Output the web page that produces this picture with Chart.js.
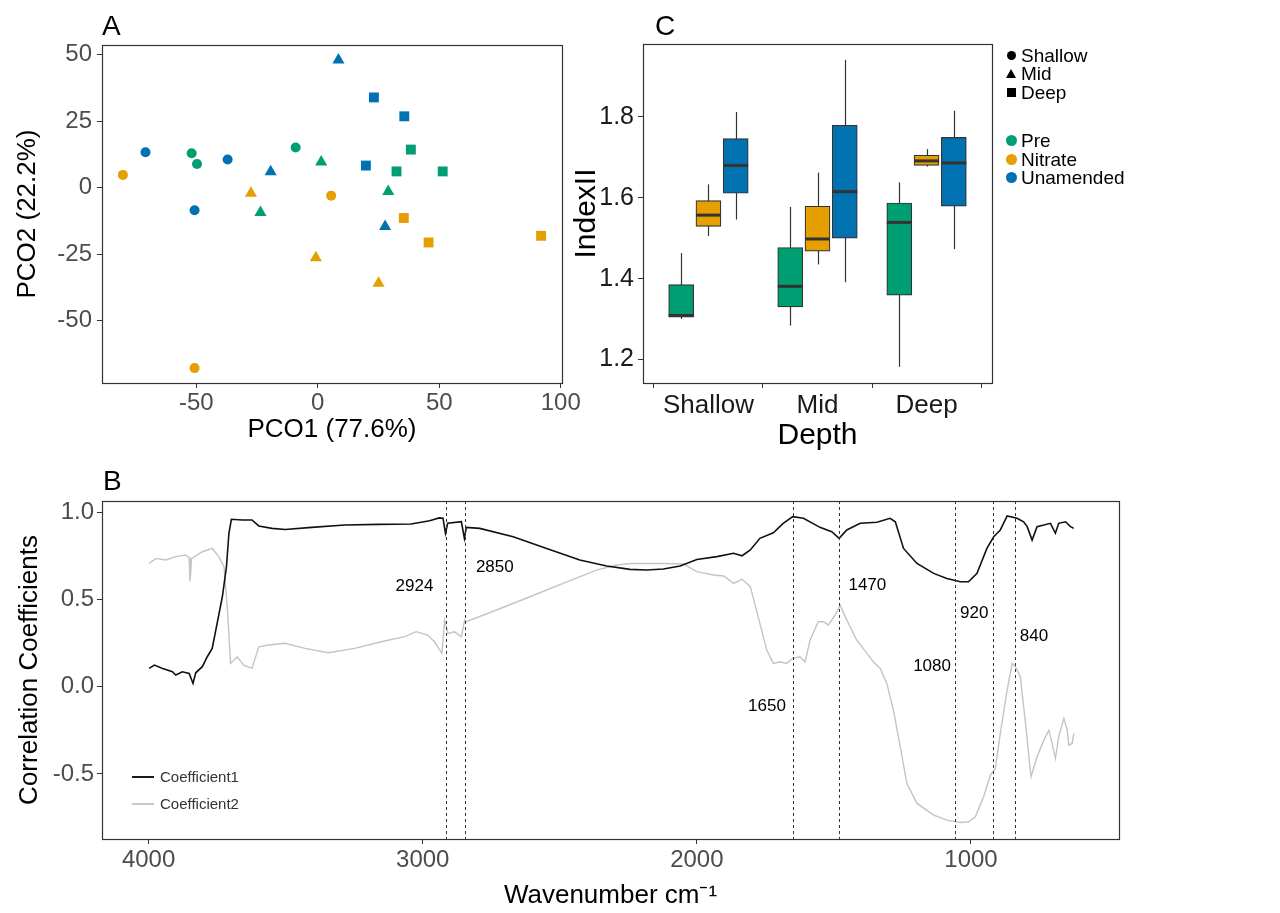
<!DOCTYPE html>
<html>
<head>
<meta charset="utf-8">
<title>PCO, IndexII and correlation spectra</title>
<script src="https://cdn.jsdelivr.net/npm/chart.js@4.4.1/dist/chart.umd.min.js"></script>
<style>
    html, body { margin: 0; padding: 0; background: #fff; }
    body { width: 1280px; height: 913px; position: relative; overflow: hidden;
           font-family: "Liberation Sans", Arial, sans-serif; }
    .panel { position: absolute; }
    .tag { position: absolute; font-size: 28px; line-height: 28px; color: #000; }
    .leg { position: absolute; font-size: 19px; line-height: 19px; color: #000; white-space: nowrap; }
    .shape { position: absolute; }
    .legB { position: absolute; font-family: "Liberation Sans Narrow", "Liberation Sans", Arial, sans-serif;
            font-size: 15px; line-height: 16px; color: #333; white-space: nowrap; }
</style>
</head>
<body>

<div class="panel" style="left:0;top:0;width:590px;height:450px;">
    <canvas id="chartA" width="590" height="450"></canvas>
</div>
<div class="tag" style="left:102px;top:12px;">A</div>

<div class="panel" style="left:560px;top:0;width:460px;height:460px;">
    <canvas id="chartC" width="460" height="460"></canvas>
</div>
<div class="tag" style="left:655px;top:12px;">C</div>

<!-- legend of panel C -->
<div class="shape" style="left:1007px;top:51px;width:9px;height:9px;border-radius:50%;background:#000;"></div>
<div class="leg" style="left:1021px;top:46px;">Shallow</div>
<div class="shape" style="left:1006px;top:69px;width:0;height:0;border-left:5.5px solid transparent;border-right:5.5px solid transparent;border-bottom:9px solid #000;"></div>
<div class="leg" style="left:1021px;top:64px;">Mid</div>
<div class="shape" style="left:1007px;top:88px;width:9px;height:9px;background:#000;"></div>
<div class="leg" style="left:1021px;top:83px;">Deep</div>
<div class="shape" style="left:1006px;top:135px;width:11px;height:11px;border-radius:50%;background:#009E73;"></div>
<div class="leg" style="left:1021px;top:131px;">Pre</div>
<div class="shape" style="left:1006px;top:154px;width:11px;height:11px;border-radius:50%;background:#E69F00;"></div>
<div class="leg" style="left:1021px;top:150px;">Nitrate</div>
<div class="shape" style="left:1006px;top:172px;width:11px;height:11px;border-radius:50%;background:#0072B2;"></div>
<div class="leg" style="left:1021px;top:168px;">Unamended</div>

<div class="panel" style="left:0;top:470px;width:1280px;height:443px;">
    <canvas id="chartB" width="1280" height="443"></canvas>
</div>
<div class="tag" style="left:103px;top:467px;">B</div>
<div class="shape" style="left:132px;top:776px;width:22px;height:2px;background:#1a1a1a;"></div>
<div class="legB" style="left:160px;top:769px;">Coefficient1</div>
<div class="shape" style="left:132px;top:803px;width:22px;height:2px;background:#c8c8c8;"></div>
<div class="legB" style="left:160px;top:796px;">Coefficient2</div>

<script>
const PRE_COLOR = '#009E73';
const NITRATE_COLOR = '#E69F00';
const UNAMENDED_COLOR = '#0072B2';

// Panel A - PCO scores [PCO1, PCO2]
const preShallow = [[-51.9, 12.9], [-49.7, 8.9], [-9.1, 15.1]];
const preMid = [[1.4, 9.6], [29.0, -1.4], [-23.6, -9.3]];
const preDeep = [[38.3, 14.3], [32.4, 6.1], [51.4, 6.1]];
const nitrateShallow = [[-80.2, 4.8], [5.5, -3.0], [-50.7, -67.8]];
const nitrateMid = [[-27.5, -2.1], [-0.8, -26.3], [25.0, -35.9]];
const nitrateDeep = [[35.4, -11.4], [45.6, -20.6], [91.9, -18.1]];
const unamendedShallow = [[-70.9, 13.3], [-37.1, 10.6], [-50.7, -8.5]];
const unamendedMid = [[-19.4, 6.0], [8.5, 48.0], [27.7, -14.6]];
const unamendedDeep = [[23.1, 33.9], [35.6, 26.8], [19.8, 8.3]];
const pco1Ticks = [-50, 0, 50, 100];
const pco2Ticks = [-50, -25, 0, 25, 50];

// Panel C - IndexII box plots by depth
const depthLabels = ['Shallow', 'Mid', 'Deep'];
const preMin = [1.300, 1.284, 1.182];
const preQ1 = [1.305, 1.330, 1.359];
const preMedian = [1.309, 1.381, 1.539];
const preQ3 = [1.385, 1.477, 1.587];
const preMax = [1.463, 1.577, 1.638];
const nitrateMin = [1.505, 1.435, 1.677];
const nitrateQ1 = [1.529, 1.468, 1.680];
const nitrateMedian = [1.557, 1.498, 1.691];
const nitrateQ3 = [1.593, 1.579, 1.705];
const nitrateMax = [1.633, 1.662, 1.720];
const unamendedMin = [1.546, 1.391, 1.473];
const unamendedQ1 = [1.611, 1.500, 1.579];
const unamendedMedian = [1.680, 1.615, 1.686];
const unamendedQ3 = [1.746, 1.779, 1.749];
const unamendedMax = [1.812, 1.941, 1.815];
const indexTicks = [1.2, 1.4, 1.6, 1.8];

// Panel B - correlation spectra
const coef1Wave = [3998, 3979, 3949, 3913, 3901, 3877, 3852, 3838, 3828, 3804, 3786, 3768, 3750, 3731,
    3716, 3707, 3698, 3659, 3623, 3598, 3550, 3502, 3405, 3284, 3163, 3042, 2975, 2940, 2926, 2917,
    2909, 2859, 2848, 2841, 2792, 2670, 2548, 2427, 2329, 2244, 2183, 2122, 2061, 2000, 1927, 1866,
    1835, 1805, 1770, 1721, 1685, 1650, 1611, 1551, 1508, 1481, 1453, 1404, 1343, 1295, 1276, 1246,
    1197, 1136, 1088, 1039, 1009, 978, 942, 917, 893, 868, 832, 808, 795, 777, 759, 734, 710, 692,
    680, 655, 637, 625];
const coef1Value = [0.105, 0.124, 0.105, 0.086, 0.067, 0.086, 0.076, 0.019, 0.080, 0.115, 0.172, 0.220,
    0.363, 0.516, 0.688, 0.880, 0.960, 0.956, 0.956, 0.922, 0.908, 0.902, 0.914, 0.927, 0.931, 0.933,
    0.952, 0.968, 0.966, 0.880, 0.937, 0.946, 0.850, 0.914, 0.908, 0.860, 0.793, 0.727, 0.692, 0.673,
    0.669, 0.675, 0.692, 0.730, 0.746, 0.765, 0.751, 0.784, 0.851, 0.883, 0.937, 0.975, 0.966, 0.914,
    0.889, 0.851, 0.899, 0.937, 0.943, 0.966, 0.946, 0.793, 0.707, 0.650, 0.621, 0.602, 0.602, 0.650,
    0.793, 0.860, 0.899, 0.979, 0.966, 0.946, 0.918, 0.841, 0.918, 0.927, 0.937, 0.880, 0.937, 0.946,
    0.918, 0.908];
const coef2Wave = [3998, 3973, 3937, 3901, 3865, 3852, 3849, 3843, 3804, 3768, 3744, 3725, 3713, 3701,
    3677, 3653, 3623, 3598, 3562, 3502, 3429, 3344, 3248, 3151, 3066, 3024, 2982, 2957, 2945, 2930,
    2920, 2908, 2884, 2859, 2847, 2841, 2731, 2609, 2488, 2366, 2292, 2244, 2122, 2049, 2000, 1939,
    1902, 1866, 1835, 1805, 1770, 1745, 1721, 1697, 1672, 1650, 1624, 1605, 1587, 1557, 1538, 1520,
    1496, 1477, 1459, 1417, 1356, 1331, 1307, 1283, 1258, 1234, 1197, 1136, 1088, 1039, 1009, 984,
    954, 929, 911, 893, 868, 850, 838, 820, 801, 781, 759, 734, 716, 704, 692, 680, 661, 649, 643,
    631, 625];
const coef2Value = [0.707, 0.736, 0.727, 0.746, 0.755, 0.740, 0.602, 0.736, 0.774, 0.793, 0.746, 0.688,
    0.459, 0.134, 0.172, 0.124, 0.105, 0.229, 0.239, 0.249, 0.220, 0.195, 0.220, 0.258, 0.287, 0.316,
    0.296, 0.258, 0.229, 0.191, 0.382, 0.306, 0.315, 0.287, 0.382, 0.373, 0.440, 0.516, 0.593, 0.669,
    0.698, 0.707, 0.707, 0.704, 0.660, 0.641, 0.635, 0.593, 0.616, 0.574, 0.363, 0.210, 0.134, 0.143,
    0.134, 0.163, 0.172, 0.143, 0.268, 0.373, 0.373, 0.354, 0.411, 0.468, 0.402, 0.268, 0.143, 0.105,
    0.019, -0.134, -0.344, -0.554, -0.669, -0.736, -0.765, -0.778, -0.774, -0.746, -0.631, -0.507,
    -0.468, -0.268, -0.019, 0.134, 0.115, 0.057, -0.210, -0.516, -0.402, -0.306, -0.249, -0.325,
    -0.411, -0.287, -0.182, -0.249, -0.335, -0.325, -0.268];
const markerWave = [2915, 2845, 1650, 1480, 1060, 920, 840];
const markerText = ['2924', '2850', '1650', '1470', '1080', '920', '840'];
const markerTextWave = [3030, 2737, 1744, 1378, 1142, 988, 770];
const markerTextValue = [0.575, 0.685, -0.115, 0.579, 0.115, 0.421, 0.287];
const waveTicks = [4000, 3000, 2000, 1000];
const corrTicks = [-0.5, 0, 0.5, 1.0];

Chart.defaults.font.family = '"Liberation Sans", Arial, sans-serif';

// box round the plotting panel (ggplot style border)
const panelBorder = {
    id: 'panelBorder',
    afterDraw(chart) {
        const { ctx, chartArea: a } = chart;
        ctx.save();
        ctx.strokeStyle = '#333';
        ctx.lineWidth = 1.2;
        ctx.strokeRect(Math.round(a.left) + 0.5, Math.round(a.top) + 0.5,
            Math.round(a.right - a.left), Math.round(a.bottom - a.top));
        ctx.restore();
    }
};

function fixedTicks(values) {
    return scale => { scale.ticks = values.map(v => ({ value: v })); };
}

function axisGrid() {
    return { display: true, drawOnChartArea: false, drawTicks: true, tickLength: 5, color: '#333', lineWidth: 1 };
}

// ---- Panel A ----
const pcoGroups = [
    { pts: preShallow, color: PRE_COLOR, shape: 'circle' },
    { pts: preMid, color: PRE_COLOR, shape: 'triangle' },
    { pts: preDeep, color: PRE_COLOR, shape: 'rect' },
    { pts: nitrateShallow, color: NITRATE_COLOR, shape: 'circle' },
    { pts: nitrateMid, color: NITRATE_COLOR, shape: 'triangle' },
    { pts: nitrateDeep, color: NITRATE_COLOR, shape: 'rect' },
    { pts: unamendedShallow, color: UNAMENDED_COLOR, shape: 'circle' },
    { pts: unamendedMid, color: UNAMENDED_COLOR, shape: 'triangle' },
    { pts: unamendedDeep, color: UNAMENDED_COLOR, shape: 'rect' }
];

new Chart(document.getElementById('chartA'), {
    type: 'scatter',
    data: {
        datasets: pcoGroups.map(g => ({
            data: g.pts.map(p => ({ x: p[0], y: p[1] })),
            pointStyle: g.shape,
            pointRadius: g.shape === 'circle' ? 5 : 7,
            backgroundColor: g.color,
            borderColor: g.color,
            borderWidth: 0
        }))
    },
    options: {
        responsive: false,
        animation: false,
        events: [],
        layout: { padding: { left: 0, top: 45, right: 28, bottom: 0 } },
        plugins: { legend: { display: false }, tooltip: { enabled: false } },
        scales: {
            x: {
                type: 'linear',
                min: -88.8,
                max: 100.5,
                afterBuildTicks: fixedTicks(pco1Ticks),
                afterFit: s => { s.height = 67; s.paddingLeft = 0; s.paddingRight = 0; },
                grid: axisGrid(),
                border: { display: false },
                ticks: { color: '#4d4d4d', font: { size: 24 }, padding: 1, autoSkip: false, maxRotation: 0 },
                title: { display: true, text: 'PCO1 (77.6%)', color: '#000', font: { size: 26 }, padding: { top: 0, bottom: 5 } }
            },
            y: {
                type: 'linear',
                min: -73.4,
                max: 53.6,
                afterBuildTicks: fixedTicks(pco2Ticks),
                afterFit: s => { s.width = 102; s.paddingTop = 0; s.paddingBottom = 0; },
                grid: axisGrid(),
                border: { display: false },
                ticks: { color: '#4d4d4d', font: { size: 24 }, padding: 5, autoSkip: false },
                title: { display: true, text: 'PCO2 (22.2%)', color: '#000', font: { size: 26 }, padding: { top: 12, bottom: 0 } }
            }
        }
    },
    plugins: [panelBorder]
});

// ---- Panel C ----
const boxStats = [
    { name: 'Pre', color: PRE_COLOR, dodge: -0.25, min: preMin, q1: preQ1, med: preMedian, q3: preQ3, max: preMax },
    { name: 'Nitrate', color: NITRATE_COLOR, dodge: 0, min: nitrateMin, q1: nitrateQ1, med: nitrateMedian, q3: nitrateQ3, max: nitrateMax },
    { name: 'Unamended', color: UNAMENDED_COLOR, dodge: 0.25, min: unamendedMin, q1: unamendedQ1, med: unamendedMedian, q3: unamendedQ3, max: unamendedMax }
];

const boxWhiskers = {
    id: 'boxWhiskers',
    beforeDatasetsDraw(chart) {
        const { ctx } = chart;
        const y = chart.scales.y;
        ctx.save();
        ctx.strokeStyle = '#333';
        ctx.lineWidth = 1.2;
        boxStats.forEach((s, i) => {
            chart.getDatasetMeta(i).data.forEach((bar, j) => {
                const px = Math.round(bar.x) + 0.5;
                ctx.beginPath();
                ctx.moveTo(px, y.getPixelForValue(s.max[j]));
                ctx.lineTo(px, y.getPixelForValue(s.min[j]));
                ctx.stroke();
            });
        });
        ctx.restore();
    },
    afterDatasetsDraw(chart) {
        const { ctx } = chart;
        const y = chart.scales.y;
        ctx.save();
        ctx.strokeStyle = '#333';
        ctx.lineWidth = 3;
        boxStats.forEach((s, i) => {
            chart.getDatasetMeta(i).data.forEach((bar, j) => {
                const py = y.getPixelForValue(s.med[j]);
                ctx.beginPath();
                ctx.moveTo(bar.x - bar.width / 2, py);
                ctx.lineTo(bar.x + bar.width / 2, py);
                ctx.stroke();
            });
        });
        ctx.restore();
    }
};

new Chart(document.getElementById('chartC'), {
    type: 'bar',
    data: {
        datasets: boxStats.map(s => ({
            label: s.name,
            data: depthLabels.map((d, j) => ({ x: j + 1 + s.dodge, y: [s.q1[j], s.q3[j]] })),
            backgroundColor: s.color,
            borderColor: '#333',
            borderWidth: 1.2,
            borderSkipped: false,
            grouped: false,
            categoryPercentage: 1,
            barPercentage: 1,
            maxBarThickness: 25
        }))
    },
    options: {
        responsive: false,
        animation: false,
        events: [],
        layout: { padding: { left: 0, top: 44, right: 28, bottom: 0 } },
        plugins: { legend: { display: false }, tooltip: { enabled: false } },
        scales: {
            x: {
                type: 'linear',
                min: 0.4,
                max: 3.6,
                offset: false,
                afterBuildTicks: fixedTicks([1, 2, 3]),
                afterFit: s => { s.height = 77; s.paddingLeft = 0; s.paddingRight = 0; },
                grid: axisGrid(),
                border: { display: false },
                ticks: { color: '#1a1a1a', font: { size: 26 }, padding: 2, autoSkip: false, maxRotation: 0,
                         callback: v => depthLabels[v - 1] },
                title: { display: true, text: 'Depth', color: '#000', font: { size: 30 }, padding: { top: 0, bottom: 6 } }
            },
            y: {
                type: 'linear',
                min: 1.142,
                max: 1.980,
                afterBuildTicks: fixedTicks(indexTicks),
                afterFit: s => { s.width = 83; s.paddingTop = 0; s.paddingBottom = 0; },
                grid: axisGrid(),
                border: { display: false },
                ticks: { color: '#1a1a1a', font: { size: 25 }, padding: 4, autoSkip: false,
                         callback: v => v.toFixed(1) },
                title: { display: true, text: 'IndexII', color: '#000', font: { size: 30 }, padding: { top: 9, bottom: 0 } }
            }
        }
    },
    plugins: [boxWhiskers, panelBorder]
});

// ---- Panel B ----
const bandMarkers = {
    id: 'bandMarkers',
    afterDatasetsDraw(chart) {
        const { ctx, chartArea: a } = chart;
        const x = chart.scales.x;
        const y = chart.scales.y;
        ctx.save();
        ctx.strokeStyle = '#333';
        ctx.lineWidth = 1;
        ctx.setLineDash([3, 3]);
        markerWave.forEach(w => {
            const px = Math.round(x.getPixelForValue(w)) + 0.5;
            ctx.beginPath();
            ctx.moveTo(px, a.top);
            ctx.lineTo(px, a.bottom);
            ctx.stroke();
        });
        ctx.setLineDash([]);
        ctx.fillStyle = '#000';
        ctx.font = '17px "Liberation Sans", Arial, sans-serif';
        ctx.textAlign = 'center';
        ctx.textBaseline = 'middle';
        markerText.forEach((t, i) => {
            ctx.fillText(t, x.getPixelForValue(markerTextWave[i]), y.getPixelForValue(markerTextValue[i]));
        });
        ctx.restore();
    }
};

new Chart(document.getElementById('chartB'), {
    type: 'line',
    data: {
        datasets: [
            {
                label: 'Coefficient1',
                data: coef1Wave.map((w, i) => ({ x: w, y: coef1Value[i] })),
                borderColor: '#111',
                borderWidth: 1.6,
                pointRadius: 0,
                tension: 0,
                fill: false
            },
            {
                label: 'Coefficient2',
                data: coef2Wave.map((w, i) => ({ x: w, y: coef2Value[i] })),
                borderColor: '#c4c4c4',
                borderWidth: 1.4,
                pointRadius: 0,
                tension: 0,
                fill: false
            }
        ]
    },
    options: {
        responsive: false,
        animation: false,
        events: [],
        layout: { padding: { left: 0, top: 31, right: 161, bottom: 0 } },
        plugins: { legend: { display: false }, tooltip: { enabled: false } },
        scales: {
            x: {
                type: 'linear',
                reverse: true,
                min: 460,
                max: 4170,
                afterBuildTicks: fixedTicks(waveTicks),
                afterFit: s => { s.height = 74; s.paddingLeft = 0; s.paddingRight = 0; },
                grid: axisGrid(),
                border: { display: false },
                ticks: { color: '#4d4d4d', font: { size: 24 }, padding: 2, autoSkip: false, maxRotation: 0,
                         callback: v => String(v) },
                title: { display: true, text: 'Wavenumber cm\u207B\u00B9', color: '#000', font: { size: 26 }, padding: { top: 0, bottom: 2 } }
            },
            y: {
                type: 'linear',
                min: -0.873,
                max: 1.065,
                afterBuildTicks: fixedTicks(corrTicks),
                afterFit: s => { s.width = 102; s.paddingTop = 0; s.paddingBottom = 0; },
                grid: axisGrid(),
                border: { display: false },
                ticks: { color: '#4d4d4d', font: { size: 24 }, padding: 3, autoSkip: false,
                         callback: v => v.toFixed(1) },
                title: { display: true, text: 'Correlation Coefficients', color: '#000', font: { size: 26 }, padding: { top: 14, bottom: 0 } }
            }
        }
    },
    plugins: [bandMarkers, panelBorder]
});
</script>
</body>
</html>
